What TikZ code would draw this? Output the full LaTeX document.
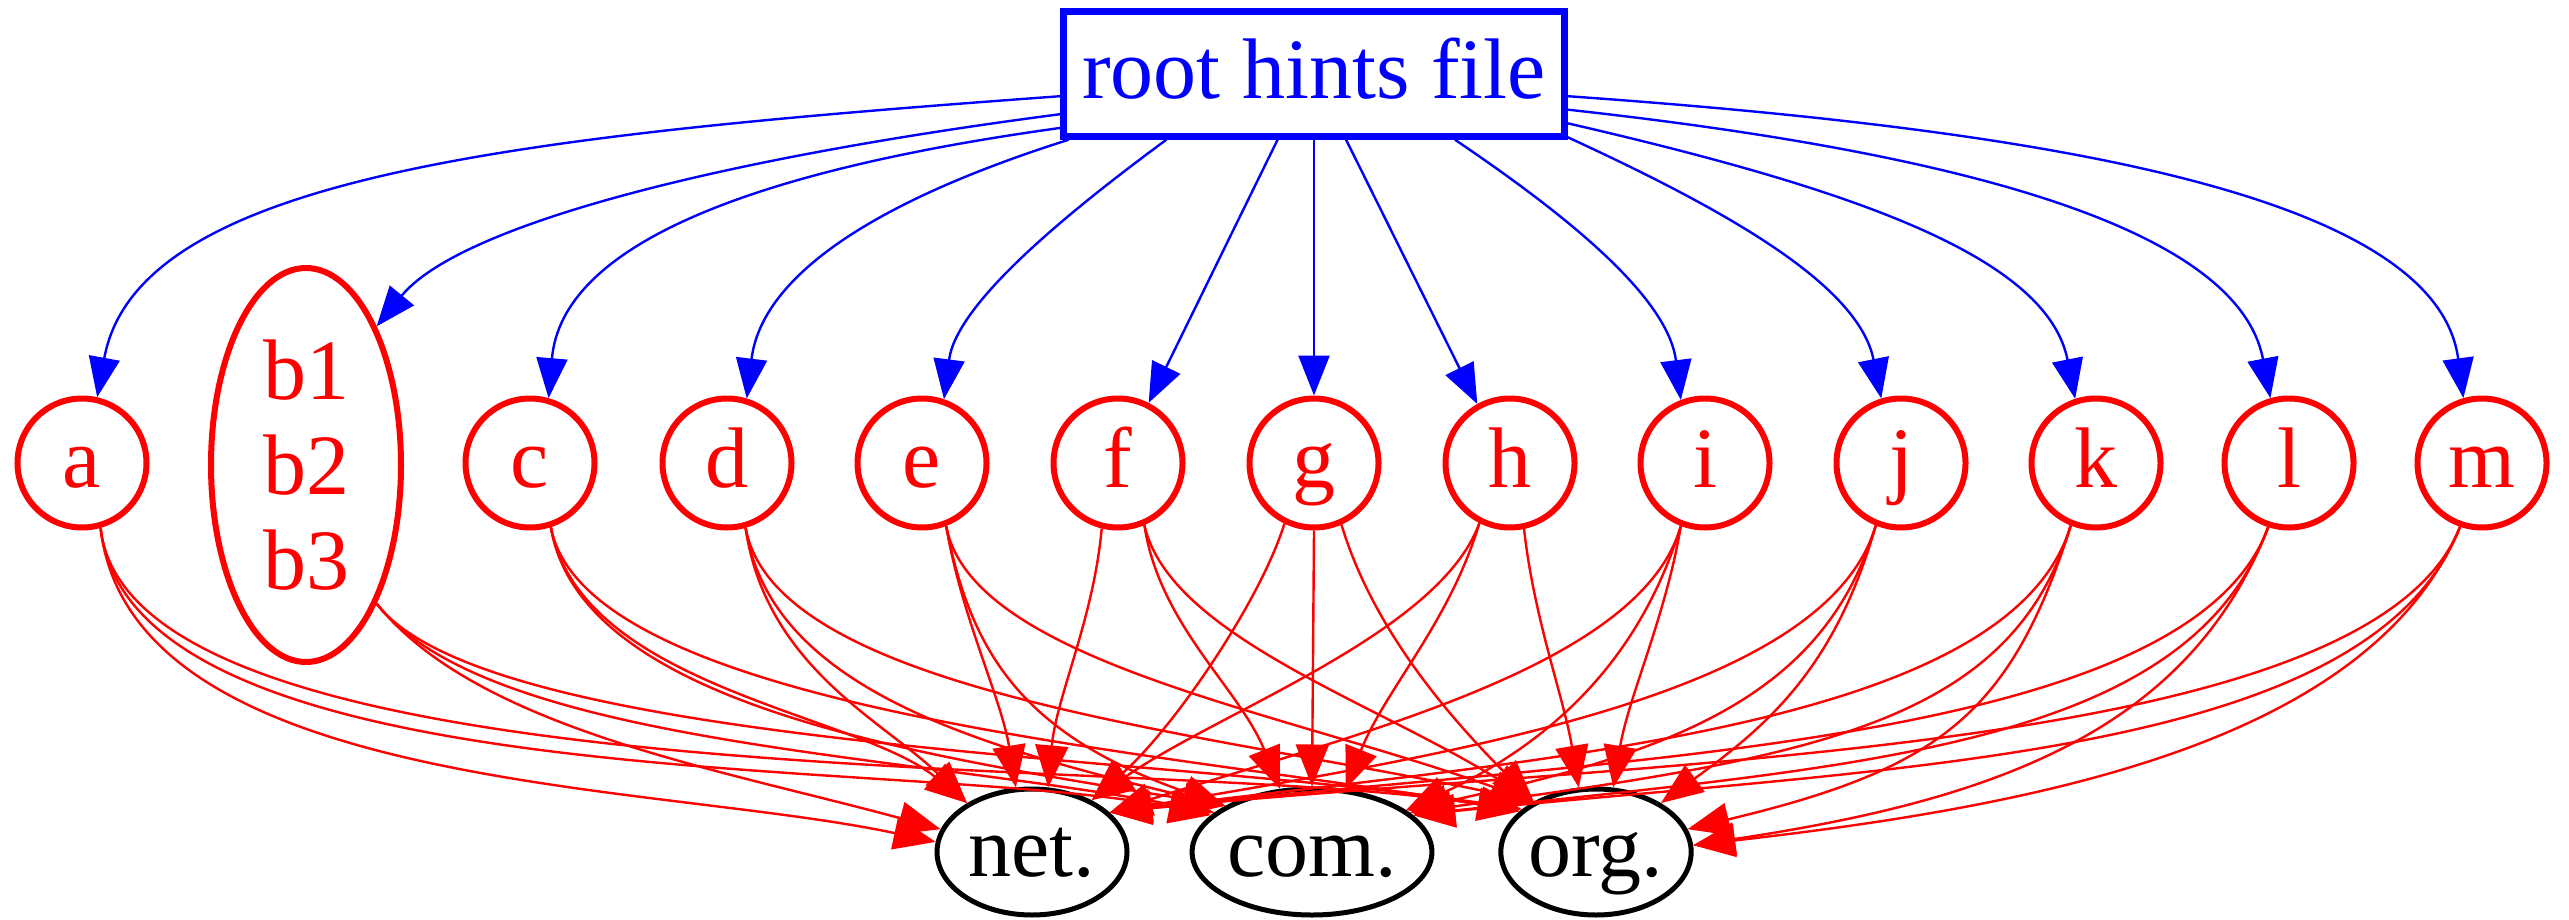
\documentclass[tikz,border=0pt]{standalone}
\usepackage{fontspec}
\setmainfont{Liberation Serif}
\usetikzlibrary{arrows.meta,shapes.geometric}
\newcommand\lblfont{\fontsize{86pt}{95pt}\selectfont}
\tikzset{
  rn/.style={circle, draw=red, line width=6pt, text=red, minimum size=129pt, inner sep=0pt, font=\lblfont, text height=68pt, text depth=19pt},
  bn/.style={ellipse, draw=black, line width=5pt, text=black, minimum height=126pt, inner sep=0pt, font=\lblfont, text height=68pt, text depth=19pt},
  rootbox/.style={rectangle, draw=blue, line width=6.5pt, text=blue, minimum width=501pt, minimum height=125pt, inner sep=0pt, font=\lblfont, text height=68pt, text depth=19pt},
  be/.style={draw=blue, line width=2.4pt, -{Triangle[length=40pt,width=31pt]}},
  re/.style={draw=red, line width=2.4pt, -{Triangle[length=42pt,width=33pt]}},
}
\begin{document}
\begin{tikzpicture}[x=1pt,y=1pt]
\useasboundingbox (0,0) rectangle (2569,-920);
\node[rootbox] (root) at (1314,-74) {root hints file};
\node[rn] (a) at (82,-463) {a};
\node[ellipse, draw=red, line width=6pt, text=red, minimum width=190pt, minimum height=394pt, inner sep=0pt, font=\lblfont, align=center] (b) at (306,-465) {b1\\b2\\b3};
\node[rn] (c) at (530,-463) {c};
\node[rn] (d) at (727,-463) {d};
\node[rn] (e) at (922,-463) {e};
\node[rn] (f) at (1118,-463) {f};
\node[rn] (g) at (1314,-463) {g};
\node[rn] (h) at (1510,-463) {h};
\node[rn] (i) at (1705,-463) {i};
\node[rn] (j) at (1901,-463) {j};
\node[rn] (k) at (2096,-463) {k};
\node[rn] (l) at (2289,-463) {l};
\node[rn] (m) at (2482,-463) {m};
\node[bn, minimum width=190pt] (net) at (1032,-852) {net.};
\node[bn, minimum width=238pt] (com) at (1312,-852) {com.};
\node[bn, minimum width=190pt] (org) at (1596,-852) {org.};
% blue edges
\draw[be] (root.185) .. controls +(-550,-40) and +(40,220) .. (a.77);
\draw[be] (root.189) .. controls +(-361,-47) and +(80,98) .. (b.63);
\draw[be] (root.192) .. controls +(-311,-43) and +(13,153) .. (c.74);
\draw[be] (root.195) .. controls +(-193,-61) and +(15,123) .. (d.73);
\draw[be] (root.204) .. controls +(-110,-81) and +(12,93) .. (e.71);
\draw[be] (root.241) -- (f.63);
\draw[be] (root.270) -- (g.90);
\draw[be] (root.296) -- (h.119);
\draw[be] (root.335) .. controls +(105,-71) and +(-13,105) .. (i.111);
\draw[be] (root.346) .. controls +(154,-71) and +(-23,115) .. (j.107);
\draw[be] (root.349) .. controls +(282,-65) and +(-28,143) .. (k.108);
\draw[be] (root.352) .. controls +(382,-42) and +(-33,173) .. (l.106);
\draw[be] (root.355) .. controls +(482,-34) and +(-27,203) .. (m.106);
% red edges
\draw[re] (a.-74) .. controls +(30,-265) and +(-280,60) .. (net.174);
\draw[re] (a.-74) .. controls +(30,-275) and +(-300,60) .. (com.160);
\draw[re] (a.-74) .. controls +(30,-280) and +(-350,60) .. (org.152);
\draw[re] (b.-63) .. controls +(100,-125) and +(-220,60) .. (net.166);
\draw[re] (b.-63) .. controls +(110,-140) and +(-320,60) .. (com.158);
\draw[re] (b.-63) .. controls +(110,-145) and +(-360,55) .. (org.150);
\draw[re] (c.-72) .. controls +(30,-160) and +(-110,90) .. (net.143);
\draw[re] (c.-72) .. controls +(30,-180) and +(-300,50) .. (com.152);
\draw[re] (c.-72) .. controls +(35,-185) and +(-350,60) .. (org.152);
\draw[re] (d.-74) .. controls +(20,-140) and +(-80,80) .. (net.143);
\draw[re] (d.-74) .. controls +(25,-160) and +(-250,60) .. (com.152);
\draw[re] (d.-74) .. controls +(30,-165) and +(-330,70) .. (org.141);
\draw[re] (e.-69) .. controls +(15,-90) and +(-15,90) .. (net.104);
\draw[re] (e.-69) .. controls +(25,-130) and +(-200,70) .. (com.152);
\draw[re] (e.-69) .. controls +(25,-135) and +(-250,90) .. (org.141);
\draw[re] (f.-104) .. controls +(-8,-90) and +(8,90) .. (net.76);
\draw[re] (f.-67) .. controls +(15,-100) and +(-40,100) .. (com.117);
\draw[re] (f.-67) .. controls +(25,-110) and +(-160,100) .. (org.141);
\draw[re] (g.-116) .. controls +(-25,-80) and +(80,70) .. (net.41);
\draw[re] (g.-90) -- (com.90);
\draw[re] (g.-66) .. controls +(30,-100) and +(-90,90) .. (org.141);
\draw[re] (h.-117) .. controls +(-40,-110) and +(130,90) .. (net.41);
\draw[re] (h.-117) .. controls +(-30,-100) and +(40,100) .. (com.62);
\draw[re] (h.-78) .. controls +(10,-90) and +(-15,90) .. (org.105);
\draw[re] (i.-111) .. controls +(-40,-140) and +(250,80) .. (net.27);
\draw[re] (i.-111) .. controls +(-40,-130) and +(150,70) .. (com.24);
\draw[re] (i.-111) .. controls +(-15,-90) and +(15,90) .. (org.75);
\draw[re] (j.-112) .. controls +(-50,-170) and +(350,60) .. (net.27);
\draw[re] (j.-112) .. controls +(-50,-165) and +(280,60) .. (com.24);
\draw[re] (j.-112) .. controls +(-40,-140) and +(110,80) .. (org.37);
\draw[re] (k.-112) .. controls +(-60,-200) and +(450,55) .. (net.27);
\draw[re] (k.-112) .. controls +(-60,-200) and +(400,55) .. (com.22);
\draw[re] (k.-112) .. controls +(-60,-190) and +(250,60) .. (org.14);
\draw[re] (l.-108) .. controls +(-80,-220) and +(500,55) .. (net.27);
\draw[re] (l.-108) .. controls +(-80,-220) and +(450,50) .. (com.20);
\draw[re] (l.-108) .. controls +(-80,-205) and +(300,45) .. (org.4);
\draw[re] (m.-109) .. controls +(-90,-230) and +(550,55) .. (net.27);
\draw[re] (m.-109) .. controls +(-90,-230) and +(500,50) .. (com.20);
\draw[re] (m.-109) .. controls +(-90,-215) and +(350,40) .. (org.4);
\end{tikzpicture}
\end{document}
